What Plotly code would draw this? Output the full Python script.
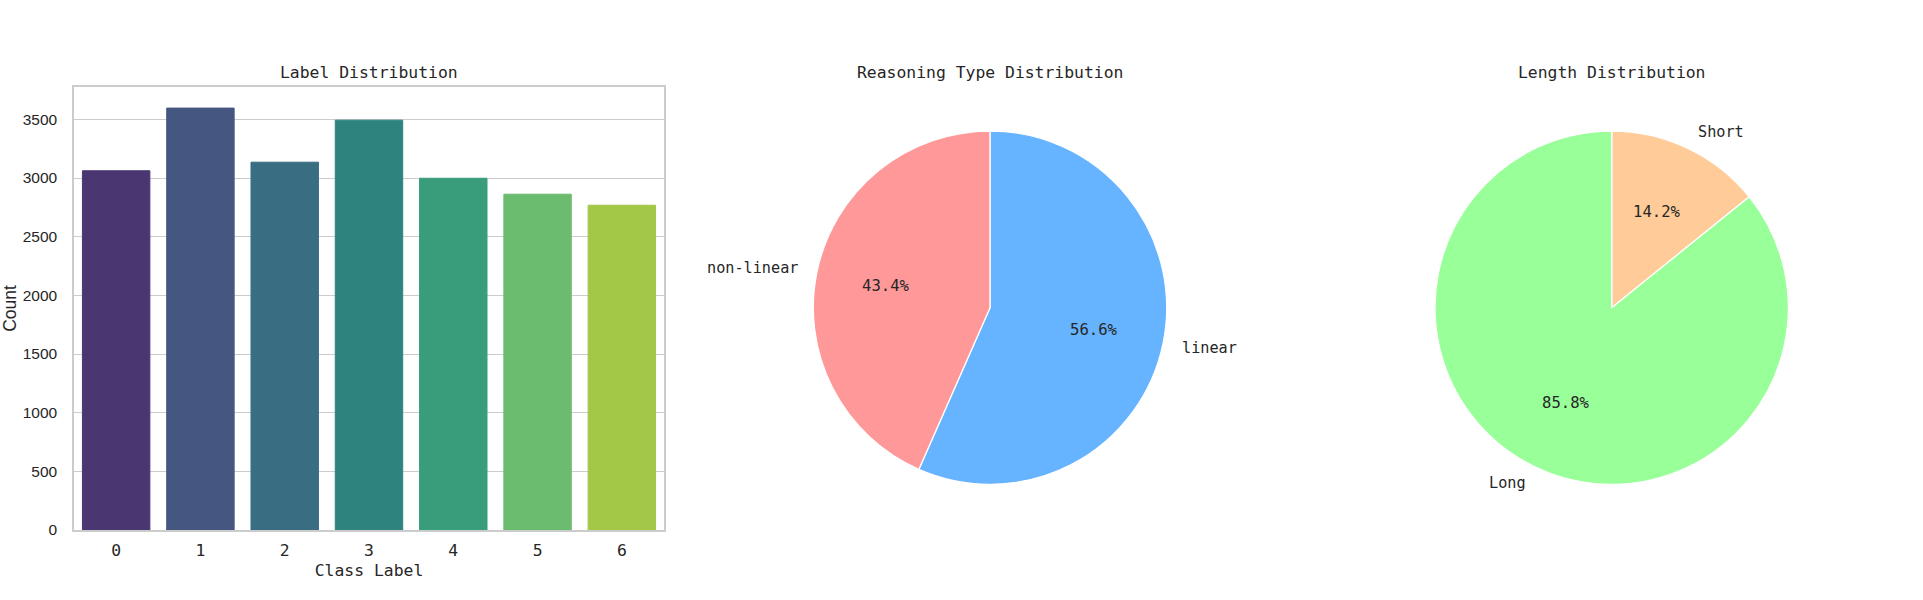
import math
import plotly.graph_objects as go

# ---------------- data ----------------
class_labels = ["0", "1", "2", "3", "4", "5", "6"]
class_counts = [3062, 3596, 3135, 3493, 2998, 2862, 2768]
bar_colors = ["#4a3771", "#455681", "#386d82", "#2f837f", "#399d7b", "#6bbc6e", "#a3c746"]

reason_labels = ["non-linear", "linear"]
reason_share = [43.4, 56.6]
reason_colors = ["#ff9999", "#66b3ff"]

length_labels = ["Long", "Short"]
length_share = [85.8, 14.2]
length_colors = ["#99ff99", "#ffcc99"]

y_ticks = [0, 500, 1000, 1500, 2000, 2500, 3000, 3500]

# ---------------- layout constants ----------------
OFF = 0                      # page body margin removed via post_script
W, H = 1923 - 2 * OFF, 600 - 2 * OFF
MONO = "DejaVu Sans Mono"
SANS = "Liberation Sans"
TXT = "#262626"
GRID = "#cccccc"
FS_TITLE = 16.4
FS_LABEL = 15.2
FS_PCT = 15.6


def px(x):
    return (x - OFF) / W


def py(y):
    return 1 - (y - OFF) / H


fig = go.Figure()

fig.add_trace(go.Bar(
    x=class_labels, y=class_counts,
    marker=dict(color=bar_colors, line=dict(color=bar_colors, width=1)),
    width=0.8, showlegend=False, hoverinfo="x+y",
))

pies = [
    dict(labels=reason_labels, values=reason_share, colors=reason_colors,
         cx=990.0, cy=307.7, r=176.7, title="Reasoning Type Distribution"),
    dict(labels=length_labels, values=length_share, colors=length_colors,
         cx=1611.7, cy=307.7, r=176.7, title="Length Distribution"),
]

annotations = []
for p in pies:
    # slices run counter-clockwise from 12 o'clock (first slice on the left);
    # in plotly that is the reversed order drawn clockwise
    fig.add_trace(go.Pie(
        labels=p["labels"][::-1], values=p["values"][::-1], sort=False,
        direction="clockwise", rotation=0,
        marker=dict(colors=p["colors"][::-1], line=dict(color="white", width=1.3)),
        textinfo="none", showlegend=False,
        domain=dict(x=[px(p["cx"] - p["r"]), px(p["cx"] + p["r"])],
                    y=[py(p["cy"] + p["r"]), py(p["cy"] - p["r"])]),
    ))
    total = sum(p["values"])
    start = 90.0
    for lab, val in zip(p["labels"], p["values"]):
        span = val / total * 360.0
        mid = math.radians(start + span / 2)
        start += span
        tx = p["cx"] + 0.6 * p["r"] * math.cos(mid)
        ty = p["cy"] - 0.6 * p["r"] * math.sin(mid)
        annotations.append(dict(x=px(tx), y=py(ty), xref="paper", yref="paper",
                                text=f"{val / total * 100:.1f}%", showarrow=False,
                                xanchor="center", yanchor="middle",
                                font=dict(family=MONO, size=FS_PCT, color=TXT)))
        lx = p["cx"] + 1.1 * p["r"] * math.cos(mid)
        ly = p["cy"] - 1.1 * p["r"] * math.sin(mid)
        annotations.append(dict(x=px(lx), y=py(ly), xref="paper", yref="paper",
                                text=lab, showarrow=False,
                                xanchor="left" if math.cos(mid) > 0 else "right",
                                yanchor="middle",
                                font=dict(family=MONO, size=FS_LABEL, color=TXT)))
    annotations.append(dict(x=px(p["cx"]), y=py(72), xref="paper", yref="paper",
                            text=p["title"], showarrow=False,
                            xanchor="center", yanchor="middle",
                            font=dict(family=MONO, size=FS_TITLE, color=TXT)))

ax_l, ax_r, ax_t, ax_b = 74, 664, 87, 530
annotations.append(dict(x=px((ax_l + ax_r) / 2), y=py(72), xref="paper", yref="paper",
                        text="Label Distribution", showarrow=False,
                        xanchor="center", yanchor="middle",
                        font=dict(family=MONO, size=FS_TITLE, color=TXT)))

fig.update_layout(
    width=W, height=H,
    margin=dict(l=0, r=0, t=0, b=0),
    paper_bgcolor="white", plot_bgcolor="white",
    annotations=annotations,
    xaxis=dict(
        domain=[px(ax_l), px(ax_r)], type="category", range=[-0.5, 6.5],
        showgrid=False, showline=True, mirror=True, linecolor=GRID, linewidth=1.5,
        ticks="", ticklabelstandoff=5,
        tickfont=dict(family=MONO, size=FS_TITLE, color=TXT),
        title=dict(text="Class Label", standoff=5,
                   font=dict(family=MONO, size=FS_TITLE, color=TXT)),
        automargin=False, zeroline=False,
    ),
    yaxis=dict(
        domain=[py(ax_b), py(ax_t)],
        range=[0, max(class_counts) * 1.05],
        tickvals=y_ticks, ticktext=[str(v) for v in y_ticks],
        showgrid=True, gridcolor=GRID, gridwidth=1.2,
        showline=True, mirror=True, linecolor=GRID, linewidth=1.5,
        ticks="", ticklabelstandoff=12, zeroline=False,
        tickfont=dict(family=SANS, size=15.5, color=TXT),
        title=dict(text="Count", standoff=19,
                   font=dict(family=SANS, size=17.5, color=TXT)),
        automargin=False,
    ),
)

fig.write_html("out.html",
               config={"displayModeBar": False},
               post_script="document.body.style.margin='0';document.body.style.padding='0';")
